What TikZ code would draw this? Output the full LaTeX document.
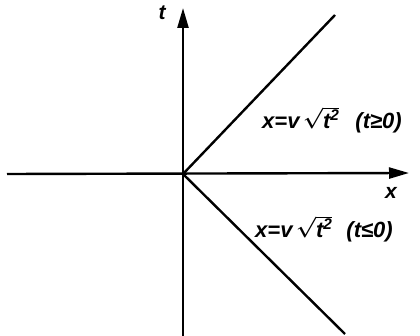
\documentclass[tikz,border=0pt]{standalone}
\usepackage{fontspec}
\setmainfont{Liberation Sans}
\usetikzlibrary{arrows.meta}
\tikzset{
  axis/.style={line width=2.4pt,-{Triangle[length=20pt,width=11pt]}},
  ray/.style={line width=2.4pt},
  lbl/.style={font=\fontsize{22}{26}\selectfont\bfseries\itshape\boldmath, inner sep=0pt},
  axlbl/.style={font=\fontsize{21}{24}\selectfont\bfseries\itshape, inner sep=0pt}
}
\newcommand{\rootsq}{\ensuremath{\sqrt{\mbox{\bfseries\itshape t\textsuperscript{2}}}}}
\begin{document}
\begin{tikzpicture}[x=1pt,y=-1pt]
\useasboundingbox (0,0) rectangle (420,336);
\coordinate (o) at (183,174);
\coordinate (xl) at (7,174);
\coordinate (xr) at (409,173);
\coordinate (yb) at (183,336);
\coordinate (yt) at (183,8);
\coordinate (u) at (335,15);
\coordinate (d) at (345,334);
\draw[axis] (xl) -- (xr);
\draw[axis] (yb) -- (yt);
\draw[ray] (o) -- (u);
\draw[ray] (o) -- (d);
\node[axlbl] (tl) at (162,13) {t};
\node[axlbl] (xlab) at (391,193) {x};
\node[lbl, anchor=west] (up) at (262,120) {x=v\,\rootsq\hspace{16pt}(t≥0)};
\node[lbl, anchor=west] (dn) at (255,229) {x=v\,\rootsq\hspace{14pt}(t≤0)};
\end{tikzpicture}
\end{document}
